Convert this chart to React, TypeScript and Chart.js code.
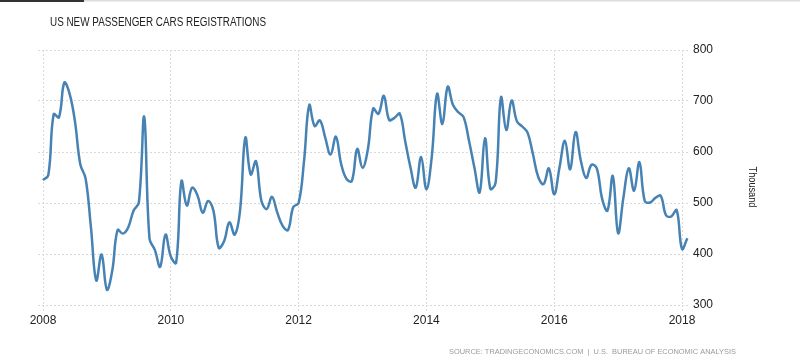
import React, { useEffect, useRef } from "react";
import { Chart, registerables } from "chart.js";

Chart.register(...registerables);

// Monthly values, Jan 2008 .. Feb 2018 (thousand)
const values: number[] = [
  545, 555, 674, 668, 736, 714, 660, 576, 548, 452, 348, 399,
  330, 367, 447, 440, 452, 485, 501, 669, 430, 408, 375, 438,
  395, 383, 543, 495, 530, 515, 481, 504, 485, 412, 425, 462,
  438, 485, 628, 556, 582, 505, 488, 512, 481, 455, 447, 492,
  500, 580, 692, 651, 662, 628, 595, 630, 576, 547, 543, 606,
  569, 605, 685, 675, 710, 663, 667, 675, 622, 570, 530, 590,
  527, 590, 714, 655, 728, 692, 678, 668, 622, 570, 521, 627,
  528, 540, 707, 643, 701, 660, 650, 638, 596, 551, 537, 568,
  517, 570, 622, 566, 639, 583, 549, 575, 568, 508, 485, 553,
  441, 511, 568, 524, 580, 504, 501, 510, 514, 476, 474, 486,
  410, 431,
];
const startYear = 2008;
const yearTicks: number[] = [2008, 2010, 2012, 2014, 2016, 2018];
const yTicks: number[] = [300, 400, 500, 600, 700, 800];
const titleText = "US NEW PASSENGER CARS REGISTRATIONS";
const sourceText = "SOURCE: TRADINGECONOMICS.COM  |  U.S.  BUREAU OF ECONOMIC ANALYSIS";
const unitText = "Thousand";

const FONT = "'Liberation Sans', Arial, sans-serif";

const decorPlugin = {
  id: "decor",
  afterDraw(chart: any) {
    const ctx = chart.ctx as CanvasRenderingContext2D;
    ctx.save();
    // top bars
    ctx.fillStyle = "#dcdcdc";
    ctx.fillRect(84, 0, 716, 1.5);
    ctx.fillStyle = "#333333";
    ctx.fillRect(0, 0, 84, 2);
    // title
    ctx.fillStyle = "#222222";
    ctx.font = `12px ${FONT}`;
    ctx.textAlign = "left";
    ctx.textBaseline = "middle";
    ctx.fillText(titleText, 50, 23, 216);
    // source
    ctx.fillStyle = "#9a9a9a";
    ctx.font = `8px ${FONT}`;
    ctx.fillText(sourceText, 449, 352, 287);
    // unit
    ctx.translate(752, 187);
    ctx.rotate(Math.PI / 2);
    ctx.fillStyle = "#222222";
    ctx.font = `10px ${FONT}`;
    ctx.textAlign = "center";
    ctx.fillText(unitText, 0, 0, 41);
    ctx.restore();
  },
};

export default function App() {
  const ref = useRef<HTMLCanvasElement | null>(null);

  useEffect(() => {
    if (!ref.current) return;
    const points = values.map((v, i) => ({ x: i, y: v }));
    const chart = new Chart(ref.current, {
      type: "line",
      data: {
        datasets: [
          {
            data: points,
            borderColor: "#4682b4",
            borderWidth: 2.5,
            pointRadius: 0,
            tension: 0.4,
            fill: false,
          },
        ],
      },
      options: {
        animation: false,
        responsive: true,
        maintainAspectRatio: false,
        layout: { padding: { left: 38, top: 50, right: 0, bottom: 34 } },
        plugins: {
          legend: { display: false },
          tooltip: { enabled: false },
          title: { display: false },
        },
        scales: {
          x: {
            type: "linear",
            min: -0.94,
            max: 121.5,
            afterBuildTicks: (scale: any) => {
              scale.ticks = yearTicks.map((y) => ({ value: (y - startYear) * 12 }));
            },
            afterFit: (scale: any) => {
              scale.height = 22;
            },
            ticks: {
              callback: (v: any) => String(startYear + Number(v) / 12),
              color: "#222222",
              font: { family: FONT, size: 12 },
              padding: 2,
              maxRotation: 0,
              autoSkip: false,
            },
            grid: {
              color: "#d9d9d9",
              lineWidth: 1,
              drawTicks: true,
              tickLength: 6,
              tickBorderDash: [2, 2],
            },
            border: { display: false, dash: [2, 2] },
          },
          y: {
            position: "right",
            min: 300,
            max: 800,
            afterBuildTicks: (scale: any) => {
              scale.ticks = yTicks.map((v) => ({ value: v }));
            },
            afterFit: (scale: any) => {
              scale.width = 110;
            },
            ticks: {
              color: "#222222",
              font: { family: FONT, size: 12 },
              padding: 3,
            },
            grid: {
              color: "#d9d9d9",
              lineWidth: 1,
              drawTicks: false,
            },
            border: { display: false, dash: [2, 2] },
          },
        },
      },
      plugins: [decorPlugin],
    } as any);
    return () => chart.destroy();
  }, []);

  return (
    <div style={{ position: "absolute", left: 0, top: 0, width: 800, height: 361, background: "#fff" }}>
      <canvas ref={ref} />
    </div>
  );
}
